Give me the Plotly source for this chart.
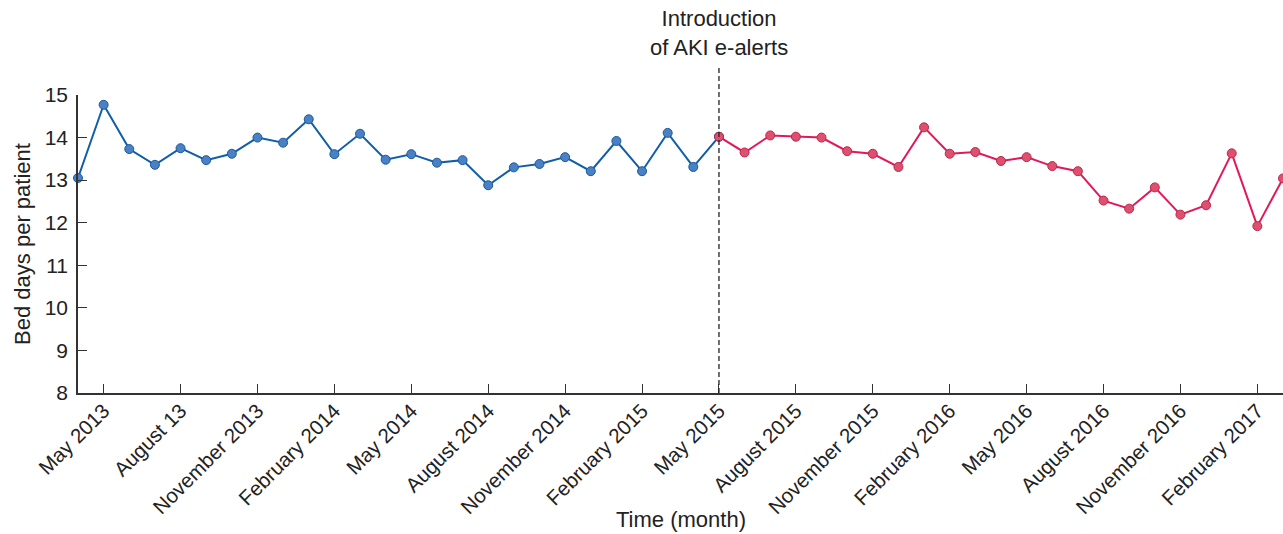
import plotly.graph_objects as go

# Month index 0 = April 2013 ... 47 = March 2017
pre_months = list(range(0, 26))       # Apr 2013 - May 2015
pre_values = [13.05, 14.77, 13.73, 13.36, 13.75, 13.47, 13.62, 14.00, 13.88,
              14.43, 13.61, 14.09, 13.48, 13.61, 13.41, 13.47, 12.88, 13.30,
              13.38, 13.54, 13.21, 13.92, 13.21, 14.11, 13.31, 14.02]
post_months = list(range(25, 48))     # May 2015 - Mar 2017
post_values = [14.02, 13.65, 14.05, 14.02, 14.00, 13.68, 13.62, 13.31, 14.24,
               13.62, 13.66, 13.45, 13.54, 13.33, 13.21, 12.52, 12.33, 12.83,
               12.19, 12.41, 13.63, 11.92, 13.04]

tick_vals = list(range(1, 47, 3))
tick_text = ["May 2013", "August 13", "November 2013", "February 2014",
             "May 2014", "August 2014", "November 2014", "February 2015",
             "May 2015", "August 2015", "November 2015", "February 2016",
             "May 2016", "August 2016", "November 2016", "February 2017"]
intro_month = 25
y_ticks = [8, 9, 10, 11, 12, 13, 14, 15]

FONT = "Liberation Sans, Arial, sans-serif"
TXT = "#222222"

fig = go.Figure()
fig.add_trace(go.Scatter(
    x=pre_months, y=pre_values, mode="lines+markers",
    line=dict(color="#0f5ea8", width=2),
    marker=dict(size=9, color="#4a80c4", line=dict(color="#1a5a9c", width=1)),
    cliponaxis=False, showlegend=False, hoverinfo="skip"))
fig.add_trace(go.Scatter(
    x=post_months, y=post_values, mode="lines+markers",
    line=dict(color="#e3185b", width=2),
    marker=dict(size=9, color="#e0506e", line=dict(color="#b52a4a", width=1)),
    cliponaxis=False, showlegend=False, hoverinfo="skip"))

fig.add_shape(type="line", xref="x", yref="paper", x0=intro_month, x1=intro_month,
              y0=0, y1=1.10, line=dict(color="#222222", width=1.3, dash="5px,3px"))
fig.add_annotation(x=intro_month, xref="x", yref="paper", y=1.112, yanchor="bottom",
                   text="Introduction<br>of AKI e-alerts", showarrow=False,
                   font=dict(family=FONT, size=22, color=TXT))
fig.add_annotation(x=0.5, xref="paper", yref="paper", y=-0.426, yanchor="middle",
                   text="Time (month)", showarrow=False,
                   font=dict(family=FONT, size=22, color=TXT))

fig.update_layout(
    width=1283, height=534,
    margin=dict(l=78, r=0, t=95, b=141),
    plot_bgcolor="white", paper_bgcolor="white",
    font=dict(family=FONT, color=TXT),
)
fig.update_xaxes(
    range=[0, 47], tickmode="array", tickvals=tick_vals, ticktext=tick_text,
    tickangle=-45, ticks="inside", ticklen=9, tickcolor="#333333",
    ticklabelstandoff=-4,
    showline=True, linecolor="#333333", linewidth=1.5, showgrid=False, zeroline=False,
    tickfont=dict(family=FONT, size=20.5, color=TXT),
)
fig.update_yaxes(
    range=[8, 15], tickmode="array", tickvals=y_ticks,
    ticks="inside", ticklen=9, tickcolor="#333333",
    ticklabelstandoff=4,
    showline=True, linecolor="#333333", linewidth=1.5, showgrid=False, zeroline=False,
    tickfont=dict(family=FONT, size=21, color=TXT),
    title=dict(text="Bed days per patient", font=dict(family=FONT, size=22, color=TXT), standoff=8),
)

fig.write_html("out.html", config={"displayModeBar": False},
               post_script="document.body.style.margin='0';document.body.style.overflow='hidden';")
